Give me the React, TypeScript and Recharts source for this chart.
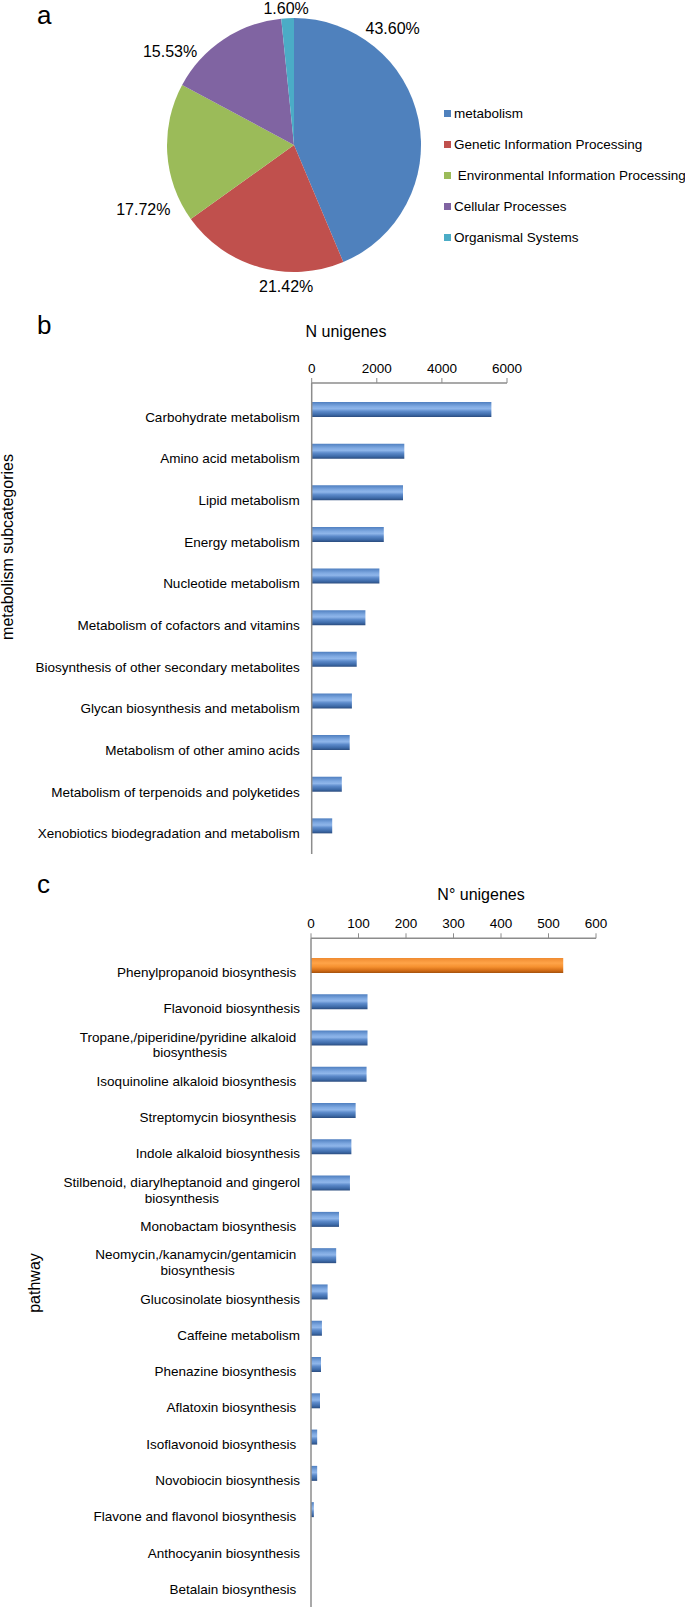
import React from 'react'
import { PieChart, Pie, Cell, BarChart, Bar, XAxis, YAxis } from 'recharts'

const FONT = '"Liberation Sans", Arial, Helvetica, sans-serif'

// panel a
const categories = [
  'metabolism',
  'Genetic Information Processing',
  ' Environmental Information Processing',
  'Cellular Processes',
  'Organismal Systems',
]
const categoryShares = [43.6, 21.42, 17.72, 15.53, 1.6]
const pieColors = ['#4f81bd', '#c0504d', '#9bbb59', '#8064a2', '#4bacc6']

// panel b
const subcategories = [
  'Carbohydrate metabolism',
  'Amino acid metabolism',
  'Lipid metabolism',
  'Energy metabolism',
  'Nucleotide metabolism',
  'Metabolism of cofactors and vitamins',
  'Biosynthesis of other secondary metabolites',
  'Glycan biosynthesis and metabolism',
  'Metabolism of other amino acids',
  'Metabolism of terpenoids and polyketides',
  'Xenobiotics biodegradation and metabolism',
]
const subcategoryUnigenes = [5520, 2845, 2805, 2215, 2080, 1650, 1383, 1235, 1167, 925, 630]
const subcategoryTicks = [0, 2000, 4000, 6000]

// panel c (trailing spaces are in the original labels)
const pathways = [
  'Phenylpropanoid biosynthesis ',
  'Flavonoid biosynthesis',
  'Tropane,/piperidine/pyridine alkaloid \nbiosynthesis',
  'Isoquinoline alkaloid biosynthesis ',
  'Streptomycin biosynthesis ',
  'Indole alkaloid biosynthesis',
  'Stilbenoid, diarylheptanoid and gingerol\nbiosynthesis',
  'Monobactam biosynthesis ',
  'Neomycin,/kanamycin/gentamicin \nbiosynthesis',
  'Glucosinolate biosynthesis',
  'Caffeine metabolism',
  'Phenazine biosynthesis ',
  'Aflatoxin biosynthesis ',
  'Isoflavonoid biosynthesis ',
  'Novobiocin biosynthesis',
  'Flavone and flavonol biosynthesis ',
  'Anthocyanin biosynthesis',
  'Betalain biosynthesis ',
]
const pathwayUnigenes = [531, 119, 119, 117, 94, 85, 82, 59, 53, 35, 23, 21, 19, 13, 13, 6, 0, 0]
const pathwayTicks = [0, 100, 200, 300, 400, 500, 600]

const pieData = categories.map((name, i) => ({ name, value: categoryShares[i] }))
const subcategoryData = subcategories.map((name, i) => ({ name, value: subcategoryUnigenes[i] }))
const pathwayData = pathways.map((name, i) => ({ name, value: pathwayUnigenes[i] }))

const AXIS = { stroke: '#8c8c8c', strokeWidth: 1.5 }
const TICK_FONT = 13.5
const INK = '#000'

// Excel put the percentages "best fit", not at the slice middle
const LABEL_TURN = [38.4, 12.6, 19.6, 19.3, 0.4]
const LABEL_GAP = [26, 15, 37, 28, 10]

let ctx: CanvasRenderingContext2D | null = null
function measure(s: string) {
  if (!ctx) {
    ctx = document.createElement('canvas').getContext('2d')
    if (ctx) ctx.font = `${TICK_FONT}px ${FONT}`
  }
  return ctx ? ctx.measureText(s).width : s.length * 6.5
}

function shareLabel(props: any) {
  const { cx, cy, midAngle, outerRadius, index, value } = props
  const a = ((midAngle + LABEL_TURN[index]) * Math.PI) / 180
  const r = outerRadius + LABEL_GAP[index]
  return (
    <text
      x={cx + r * Math.cos(a)}
      y={cy - r * Math.sin(a)}
      textAnchor="middle"
      dominantBaseline="central"
      fontSize={16}
      fontFamily={FONT}
      fill={INK}
    >
      {value.toFixed(2)}%
    </text>
  )
}

// right-aligned label block, extra lines centred under the first like Excel
function CategoryTick(props: any) {
  const { x, y, payload } = props
  const lines = String(payload.value).split('\n')
  const widths = lines.map(measure)
  const block = Math.max(...widths)
  const centre = x - block / 2
  return (
    <g>
      {lines.map((line, i) => (
        <text
          key={i}
          x={centre - widths[i] / 2}
          y={y + 12 + (i - (lines.length - 1) / 2) * 15.7}
          fontSize={TICK_FONT}
          fontFamily={FONT}
          fill={INK}
        >
          {line}
        </text>
      ))}
    </g>
  )
}

function Gradients() {
  return (
    <defs>
      <linearGradient id="barBlue" x1="0" y1="0" x2="0" y2="1">
        <stop offset="0%" stopColor="#4f7fc0" />
        <stop offset="30%" stopColor="#80aae2" />
        <stop offset="45%" stopColor="#8fb6ea" />
        <stop offset="62%" stopColor="#5d8bcb" />
        <stop offset="85%" stopColor="#3d6aa8" />
        <stop offset="100%" stopColor="#2b4c7e" />
      </linearGradient>
      <linearGradient id="barOrange" x1="0" y1="0" x2="0" y2="1">
        <stop offset="0%" stopColor="#ef8a30" />
        <stop offset="35%" stopColor="#ffa448" />
        <stop offset="60%" stopColor="#f5902f" />
        <stop offset="85%" stopColor="#d06a14" />
        <stop offset="100%" stopColor="#a5520d" />
      </linearGradient>
    </defs>
  )
}

const abs = (left: number, top: number): React.CSSProperties => ({ position: 'absolute', left, top })

function Centered({ x, y, size = 16, rotate = false, children }: any) {
  return (
    <div
      style={{
        ...abs(x, y),
        fontSize: size,
        lineHeight: 1,
        whiteSpace: 'nowrap',
        color: INK,
        transform: `translate(-50%, -50%)${rotate ? ' rotate(-90deg)' : ''}`,
      }}
    >
      {children}
    </div>
  )
}

function PanelLetter({ top, children }: any) {
  return (
    <div style={{ ...abs(37, top), fontSize: 26, lineHeight: 'normal', color: INK }}>{children}</div>
  )
}

export default function App() {
  return (
    <div
      style={{
        position: 'absolute',
        left: 0,
        top: 0,
        width: 685,
        height: 1608,
        overflow: 'hidden',
        background: '#fff',
        fontFamily: FONT,
      }}
    >
      <PanelLetter top={0}>a</PanelLetter>
      <div style={abs(0, 0)}>
        <PieChart width={685} height={300} margin={{ top: 0, right: 0, bottom: 0, left: 0 }}>
          <Pie
            data={pieData}
            dataKey="value"
            nameKey="name"
            cx={294}
            cy={145}
            outerRadius={127}
            startAngle={90}
            endAngle={-270}
            stroke="none"
            label={shareLabel}
            labelLine={false}
            isAnimationActive={false}
          >
            {pieData.map((d, i) => (
              <Cell key={d.name} fill={pieColors[i]} />
            ))}
          </Pie>
        </PieChart>
      </div>
      <div style={{ ...abs(444, 98), fontSize: TICK_FONT, color: INK }}>
        {categories.map((name, i) => (
          <div key={name} style={{ height: 31, display: 'flex', alignItems: 'center', whiteSpace: 'pre' }}>
            <span style={{ width: 7, height: 7, background: pieColors[i], marginRight: 3, flex: 'none' }} />
            {name}
          </div>
        ))}
      </div>

      <PanelLetter top={309.5}>b</PanelLetter>
      <Centered x={346} y={332}>N unigenes</Centered>
      <Centered x={8} y={547} rotate>
        metabolism subcategories
      </Centered>
      <div style={abs(0, 300)}>
        <BarChart
          width={685}
          height={560}
          layout="vertical"
          data={subcategoryData}
          margin={{ top: 53, right: 178, bottom: 6, left: 0 }}
          barCategoryGap={0}
        >
          <Gradients />
          <XAxis
            type="number"
            orientation="top"
            domain={[0, 6000]}
            ticks={subcategoryTicks}
            interval={0}
            height={30}
            axisLine={AXIS}
            tickLine={{ stroke: '#8c8c8c' }}
            tickSize={5}
            tickMargin={5}
            tick={{ fill: INK, fontSize: TICK_FONT, fontFamily: FONT }}
          />
          <YAxis
            type="category"
            dataKey="name"
            width={311.7}
            interval={0}
            axisLine={AXIS}
            tickLine={false}
            tickSize={0}
            tickMargin={12}
            padding={{ top: 6, bottom: 7 }}
            tick={<CategoryTick />}
          />
          <Bar dataKey="value" barSize={15} fill="url(#barBlue)" isAnimationActive={false} />
        </BarChart>
      </div>

      <PanelLetter top={868.5}>c</PanelLetter>
      <Centered x={481} y={895}>N° unigenes</Centered>
      <Centered x={35} y={1283} rotate>
        pathway
      </Centered>
      <div style={abs(0, 860)}>
        <BarChart
          width={685}
          height={748}
          layout="vertical"
          data={pathwayData}
          margin={{ top: 48.3, right: 89, bottom: 1, left: 0 }}
          barCategoryGap={0}
        >
          <Gradients />
          <XAxis
            type="number"
            orientation="top"
            domain={[0, 600]}
            ticks={pathwayTicks}
            interval={0}
            height={30}
            axisLine={AXIS}
            tickLine={{ stroke: '#8c8c8c' }}
            tickSize={5}
            tickMargin={5}
            tick={{ fill: INK, fontSize: TICK_FONT, fontFamily: FONT }}
          />
          <YAxis
            type="category"
            dataKey="name"
            width={311}
            interval={0}
            axisLine={AXIS}
            tickLine={false}
            tickSize={0}
            tickMargin={11}
            padding={{ top: 8.6, bottom: 7 }}
            tick={<CategoryTick />}
          />
          <Bar dataKey="value" barSize={15} isAnimationActive={false}>
            {pathwayData.map((d, i) => (
              <Cell key={d.name} fill={i === 0 ? 'url(#barOrange)' : 'url(#barBlue)'} />
            ))}
          </Bar>
        </BarChart>
      </div>
    </div>
  )
}
